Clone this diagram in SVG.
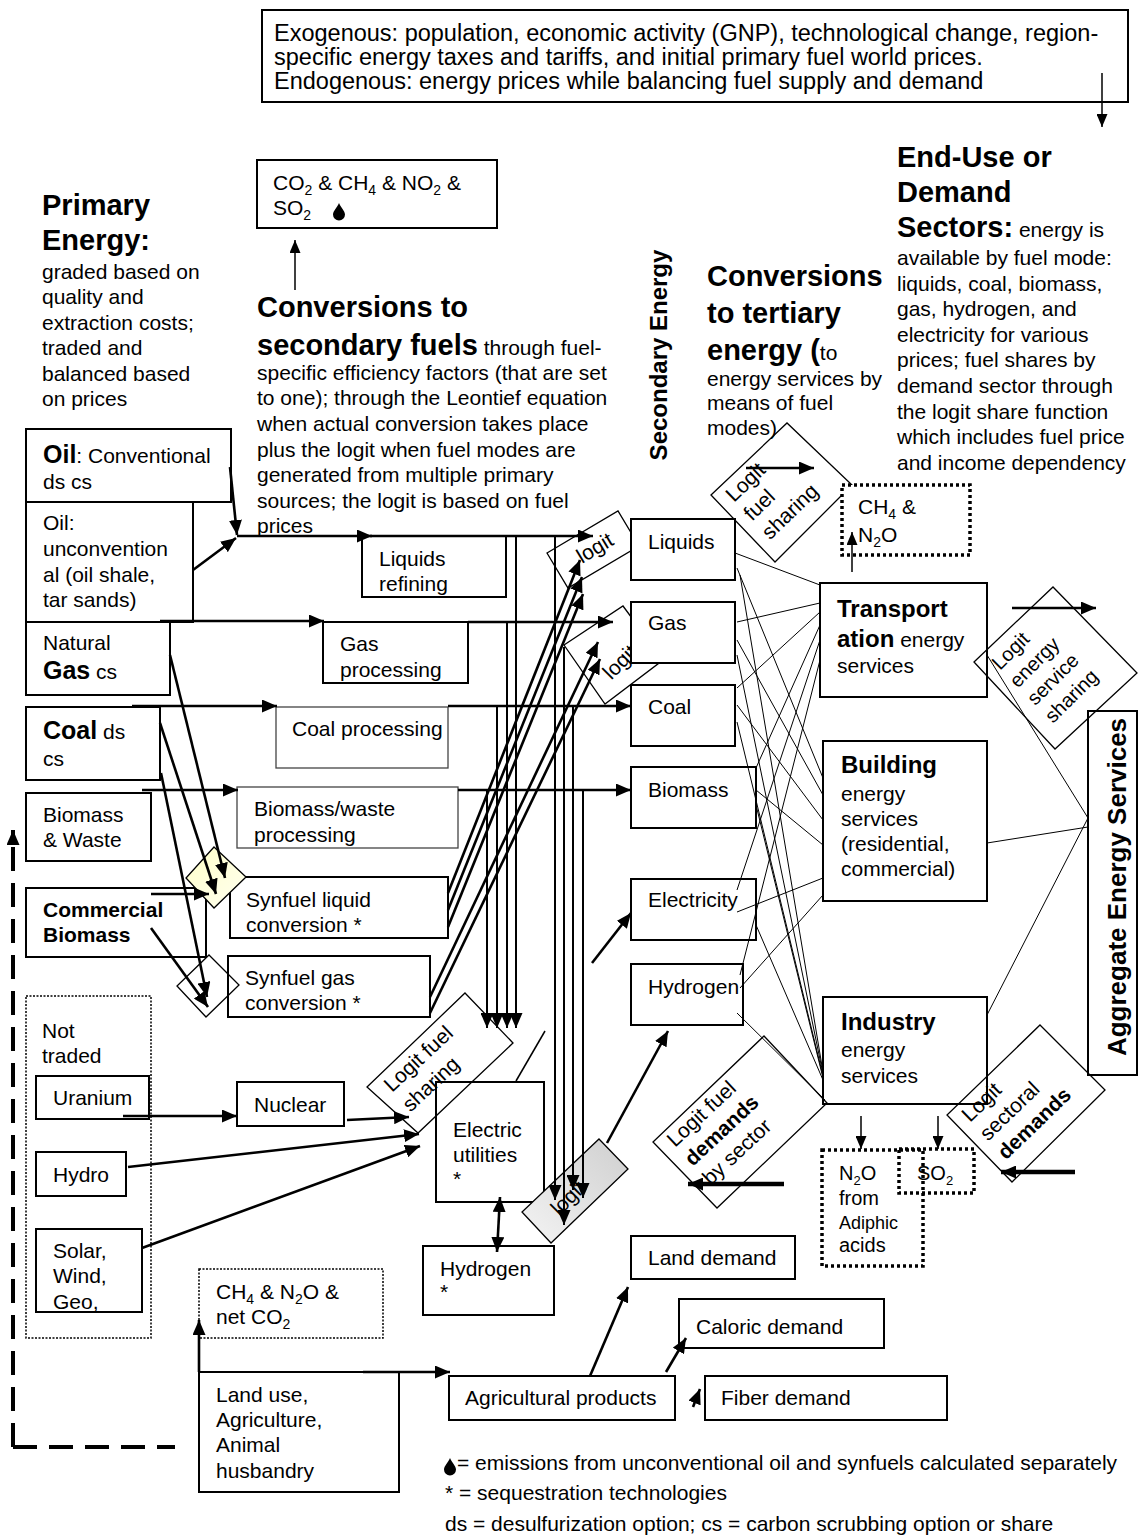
<svg xmlns="http://www.w3.org/2000/svg" width="1140" height="1536" viewBox="0 0 1140 1536">
<style>
.t{font-family:"Liberation Sans",Arial,sans-serif;font-size:21px;fill:#000}
.b{font-weight:bold}
.h{font-family:"Liberation Sans",Arial,sans-serif;font-size:29px;font-weight:bold;fill:#000}
.bx{fill:#fff;stroke:#000;stroke-width:2}
.gb{fill:#fff;stroke:#444;stroke-width:1.3}
.dd{fill:#fff;stroke:#000;stroke-width:3.5;stroke-dasharray:3 3}
.dt{fill:none;stroke:#000;stroke-width:1.5;stroke-dasharray:2 1.5}
.dm{fill:none;stroke:#000;stroke-width:1.3}
.a{fill:none;stroke:#000;stroke-width:2.6;marker-end:url(#ah)}
.v{fill:none;stroke:#000;stroke-width:2;marker-end:url(#ah)}
.s{fill:none;stroke:#000;stroke-width:1.5;marker-end:url(#as)}
.k{fill:none;stroke:#000;stroke-width:4.5;marker-end:url(#ah)}
.w{fill:none;stroke:#000;stroke-width:1}
</style>
<defs>
<marker id="ah" markerUnits="userSpaceOnUse" markerWidth="15" markerHeight="13" refX="15" refY="6.5" orient="auto"><path d="M0,0 L15,6.5 L0,13 Z" fill="#000"/></marker>
<marker id="ah2" markerUnits="userSpaceOnUse" markerWidth="15" markerHeight="13" refX="15" refY="6.5" orient="auto-start-reverse"><path d="M0,0 L15,6.5 L0,13 Z" fill="#000"/></marker>
<marker id="as" markerUnits="userSpaceOnUse" markerWidth="13" markerHeight="11" refX="13" refY="5.5" orient="auto"><path d="M0,0 L13,5.5 L0,11 Z" fill="#000"/></marker>
<linearGradient id="yel" x1="0" y1="0" x2="1" y2="1"><stop offset="0" stop-color="#ffffc8"/><stop offset="1" stop-color="#fffff0"/></linearGradient>
<linearGradient id="gry" x1="0" y1="1" x2="1" y2="0"><stop offset="0" stop-color="#f4f4f4"/><stop offset="1" stop-color="#cfcfcf"/></linearGradient>
<path id="drop" d="M0,-8 C1.5,-4 6,0 6,3.5 A6,6 0 0 1 -6,3.5 C-6,0 -1.5,-4 0,-8 Z" fill="#000"/>
</defs>
<rect width="1140" height="1536" fill="#fff"/>

<g id="exogenous">
<rect class="bx" x="262" y="10" width="866" height="92"/>
<text class="t" style="font-size:23.5px"><tspan x="274" y="41">Exogenous: population, economic activity (GNP), technological change, region-</tspan><tspan x="274" y="65">specific energy taxes and tariffs, and initial primary fuel world prices.</tspan><tspan x="274" y="89">Endogenous: energy prices while balancing fuel supply and demand</tspan></text>
</g>

<g id="emissions-top">
<rect class="bx" x="257" y="160" width="240" height="68"/>
<text class="t"><tspan x="273" y="190">CO</tspan><tspan dy="5" font-size="14">2</tspan><tspan dy="-5"> &amp; CH</tspan><tspan dy="5" font-size="14">4</tspan><tspan dy="-5"> &amp; NO</tspan><tspan dy="5" font-size="14">2</tspan><tspan dy="-5"> &amp;</tspan></text>
<text class="t"><tspan x="273" y="215">SO</tspan><tspan dy="5" font-size="14">2</tspan></text>
<use href="#drop" x="339" y="211"/>
</g>

<g id="primary-heading">
<text class="h"><tspan x="42" y="215">Primary</tspan><tspan x="42" y="250">Energy:</tspan></text>
<text class="t"><tspan x="42" y="279">graded based on</tspan><tspan x="42" y="304">quality and</tspan><tspan x="42" y="330">extraction costs;</tspan><tspan x="42" y="355">traded and</tspan><tspan x="42" y="381">balanced based</tspan><tspan x="42" y="406">on prices</tspan></text>
</g>

<g id="secondary-heading">
<text class="h"><tspan x="257" y="317">Conversions to</tspan><tspan x="257" y="355">secondary fuels</tspan><tspan class="t" style="font-weight:normal"> through fuel-</tspan></text>
<text class="t"><tspan x="257" y="380">specific efficiency factors (that are set</tspan><tspan x="257" y="405">to one); through the Leontief equation</tspan><tspan x="257" y="431">when actual conversion takes place</tspan><tspan x="257" y="457">plus the logit when fuel modes are</tspan><tspan x="257" y="482">generated from multiple primary</tspan><tspan x="257" y="508">sources; the logit is based on fuel</tspan><tspan x="257" y="533">prices</tspan></text>
</g>

<g id="tertiary-heading">
<text class="h"><tspan x="707" y="286">Conversions</tspan><tspan x="707" y="323">to tertiary</tspan><tspan x="707" y="360">energy (</tspan><tspan class="t" style="font-weight:normal">to</tspan></text>
<text class="t"><tspan x="707" y="386">energy services by</tspan><tspan x="707" y="410">means of fuel</tspan><tspan x="707" y="435">modes)</tspan></text>
</g>

<g id="enduse-heading">
<text class="h"><tspan x="897" y="167">End-Use or</tspan><tspan x="897" y="202">Demand</tspan><tspan x="897" y="237">Sectors:</tspan><tspan class="t" style="font-weight:normal"> energy is</tspan></text>
<text class="t"><tspan x="897" y="265">available by fuel mode:</tspan><tspan x="897" y="291">liquids, coal, biomass,</tspan><tspan x="897" y="316">gas, hydrogen, and</tspan><tspan x="897" y="342">electricity for various</tspan><tspan x="897" y="367">prices; fuel shares by</tspan><tspan x="897" y="393">demand sector through</tspan><tspan x="897" y="419">the logit share function</tspan><tspan x="897" y="444">which includes fuel price</tspan><tspan x="897" y="470">and income dependency</tspan></text>
</g>

<g id="secondary-energy-label">
<text class="h" style="font-size:24px" text-anchor="middle" transform="translate(667,355) rotate(-90)">Secondary Energy</text>
</g>

<g id="oil-conv"><rect class="bx" x="26" y="429" width="205" height="73"/>
<text class="t"><tspan x="43" y="463" class="b" style="font-size:25px">Oil</tspan><tspan>: Conventional</tspan><tspan x="43" y="489">ds cs</tspan></text></g>
<g id="oil-unconv"><rect class="bx" x="26" y="502" width="167" height="120"/>
<text class="t"><tspan x="43" y="530">Oil:</tspan><tspan x="43" y="556">unconvention</tspan><tspan x="43" y="582">al (oil shale,</tspan><tspan x="43" y="607">tar sands)</tspan></text></g>
<g id="natural-gas"><rect class="bx" x="26" y="622" width="144" height="73"/>
<text class="t"><tspan x="43" y="650">Natural</tspan><tspan x="43" y="679" class="b" style="font-size:25px">Gas</tspan><tspan> cs</tspan></text></g>
<g id="coal"><rect class="bx" x="26" y="707" width="134" height="73"/>
<text class="t"><tspan x="43" y="739" class="b" style="font-size:25px">Coal</tspan><tspan> ds</tspan><tspan x="43" y="766">cs</tspan></text></g>
<g id="biomass-waste"><rect class="bx" x="26" y="793" width="125" height="68"/>
<text class="t"><tspan x="43" y="822">Biomass</tspan><tspan x="43" y="847">&amp; Waste</tspan></text></g>
<g id="commercial-biomass"><rect class="bx" x="26" y="888" width="180" height="69"/>
<text class="t b"><tspan x="43" y="917">Commercial</tspan><tspan x="43" y="942">Biomass</tspan></text></g>

<g id="not-traded"><rect class="dt" x="26" y="996" width="125" height="342"/>
<text class="t"><tspan x="42" y="1038">Not</tspan><tspan x="42" y="1063">traded</tspan></text></g>
<g id="uranium"><rect class="bx" x="36" y="1076" width="113" height="43"/><text class="t" x="53" y="1105">Uranium</text></g>
<g id="hydro"><rect class="bx" x="36" y="1152" width="90" height="44"/><text class="t" x="53" y="1182">Hydro</text></g>
<g id="solar"><rect class="bx" x="36" y="1229" width="106" height="83"/>
<text class="t"><tspan x="53" y="1258">Solar,</tspan><tspan x="53" y="1283">Wind,</tspan><tspan x="53" y="1309">Geo,</tspan></text></g>

<g id="liquids-refining"><rect class="bx" x="362" y="536" width="144" height="61"/>
<text class="t"><tspan x="379" y="566">Liquids</tspan><tspan x="379" y="591">refining</tspan></text></g>
<g id="gas-processing"><rect class="bx" x="323" y="622" width="145" height="61"/>
<text class="t"><tspan x="340" y="651">Gas</tspan><tspan x="340" y="677">processing</tspan></text></g>
<g id="coal-processing"><rect class="gb" x="276" y="707" width="172" height="61"/>
<text class="t" x="292" y="736">Coal processing</text></g>
<g id="biomass-processing"><rect class="gb" x="237" y="787" width="221" height="61"/>
<text class="t"><tspan x="254" y="816">Biomass/waste</tspan><tspan x="254" y="842">processing</tspan></text></g>
<g id="synfuel-liquid"><rect class="bx" x="230" y="877" width="218" height="61"/>
<text class="t"><tspan x="246" y="907">Synfuel liquid</tspan><tspan x="246" y="932">conversion *</tspan></text></g>
<g id="synfuel-gas"><rect class="bx" x="228" y="956" width="202" height="61"/>
<text class="t"><tspan x="245" y="985">Synfuel gas</tspan><tspan x="245" y="1010">conversion *</tspan></text></g>
<g id="synfuel-liquid-switch"><polygon points="214,847 246,877 214,908 186,878" fill="url(#yel)" stroke="#000" stroke-width="1.3"/></g>
<g id="synfuel-gas-switch"><polygon points="209,955 239,985 206,1017 177,986" class="dm"/></g>

<g id="nuclear"><rect class="bx" x="237" y="1082" width="107" height="44"/><text class="t" x="254" y="1112">Nuclear</text></g>
<g id="electric-utilities"><rect x="436" y="1082" width="108" height="120" fill="none" stroke="#000" stroke-width="2"/>
<text class="t"><tspan x="453" y="1137">Electric</tspan><tspan x="453" y="1162">utilities</tspan><tspan x="453" y="1186">*</tspan></text></g>
<g id="logit-elec"><polygon points="465,993 513,1043 418,1133 367,1087" class="dm"/>
<text class="t" transform="translate(392,1093) rotate(-43)"><tspan x="0" y="0">Logit fuel</tspan><tspan x="0" y="27">sharing</tspan></text></g>
<g id="hydrogen-prod"><rect class="bx" x="423" y="1246" width="131" height="69"/>
<text class="t"><tspan x="440" y="1276">Hydrogen</tspan><tspan x="440" y="1299">*</tspan></text></g>

<g id="logit-liquids"><polygon points="547,553 618,511 639,546 568,588" class="dm"/>
<text class="t" text-anchor="middle" transform="translate(595,548) rotate(-31)" y="7">logit</text></g>
<g id="logit-gas"><polygon points="564,645 623,606 663,660 605,704" class="dm"/>
<text class="t" text-anchor="middle" transform="translate(620,662) rotate(-45)" y="7">logit</text></g>
<g id="logit-hydrogen"><polygon points="599,1139 628,1169 551,1243 522,1212" fill="url(#gry)" stroke="#000" stroke-width="1.3"/>
<text class="t" text-anchor="middle" transform="translate(568,1198) rotate(-45)" y="7">logit</text></g>

<g id="liquids"><rect class="bx" x="631" y="519" width="104" height="61"/><text class="t" x="648" y="549">Liquids</text></g>
<g id="gas"><rect class="bx" x="631" y="602" width="104" height="61"/><text class="t" x="648" y="630">Gas</text></g>
<g id="coal-sec"><rect class="bx" x="631" y="685" width="104" height="61"/><text class="t" x="648" y="714">Coal</text></g>
<g id="biomass-sec"><rect class="bx" x="631" y="767" width="125" height="61"/><text class="t" x="648" y="797">Biomass</text></g>
<g id="electricity"><rect class="bx" x="631" y="879" width="125" height="61"/><text class="t" x="648" y="907">Electricity</text></g>
<g id="hydrogen-sec"><rect class="bx" x="631" y="964" width="112" height="61"/><text class="t" x="648" y="994">Hydrogen</text></g>

<g id="logit-fuel-sharing"><polygon points="711,495 787,423 852,485 775,562" class="dm"/>
<text class="t" transform="translate(734,503) rotate(-44)"><tspan x="0" y="0">Logit</tspan><tspan x="0" y="26">fuel</tspan><tspan x="0" y="52">sharing</tspan></text></g>
<g id="ch4-n2o"><rect class="dd" x="842" y="485" width="128" height="70"/>
<text class="t"><tspan x="858" y="514">CH</tspan><tspan dy="5" font-size="14">4</tspan><tspan dy="-5"> &amp;</tspan></text>
<text class="t"><tspan x="858" y="542">N</tspan><tspan dy="5" font-size="14">2</tspan><tspan dy="-5">O</tspan></text></g>

<g id="transportation"><rect class="bx" x="820" y="583" width="167" height="114"/>
<text class="t"><tspan x="837" y="617" class="b" style="font-size:24px">Transport</tspan><tspan x="837" y="647" class="b" style="font-size:24px">ation</tspan><tspan> energy</tspan><tspan x="837" y="673">services</tspan></text></g>
<g id="building"><rect class="bx" x="823" y="741" width="164" height="160"/>
<text class="t"><tspan x="841" y="773" class="b" style="font-size:24px">Building</tspan><tspan x="841" y="801">energy</tspan><tspan x="841" y="826">services</tspan><tspan x="841" y="851">(residential,</tspan><tspan x="841" y="876">commercial)</tspan></text></g>
<g id="industry"><rect x="823" y="997" width="164" height="107" fill="none" stroke="#000" stroke-width="2"/>
<text class="t"><tspan x="841" y="1030" class="b" style="font-size:24px">Industry</tspan><tspan x="841" y="1057">energy</tspan><tspan x="841" y="1083">services</tspan></text></g>

<g id="logit-energy-service"><polygon points="974,662 1053,587 1137,673 1055,749" class="dm"/>
<text class="t" style="font-size:20px" transform="translate(1000,671) rotate(-45)"><tspan x="0" y="0">Logit</tspan><tspan x="0" y="25">energy</tspan><tspan x="0" y="50">service</tspan><tspan x="0" y="75">sharing</tspan></text></g>
<g id="aggregate"><rect x="1088" y="711" width="49" height="364" fill="none" stroke="#000" stroke-width="2"/>
<text class="h" style="font-size:26px" text-anchor="middle" transform="translate(1126,887) rotate(-90)">Aggregate Energy Services</text></g>

<g id="logit-sectoral"><polygon points="1040,1025 1105,1090 1012,1182 947,1115" class="dm"/>
<text class="t" transform="translate(970,1123) rotate(-44)"><tspan x="0" y="0">Logit</tspan><tspan x="0" y="26">sectoral</tspan><tspan x="0" y="52" class="b">demands</tspan></text></g>
<g id="logit-fuel-demands"><polygon points="764,1036 827,1103 717,1208 653,1142" class="dm"/>
<text class="t" transform="translate(675,1148) rotate(-43)"><tspan x="0" y="0">Logit fuel</tspan><tspan x="0" y="26" class="b">demands</tspan><tspan x="0" y="52">by sector</tspan></text></g>

<g id="n2o-adiphic"><rect class="dd" x="822" y="1150" width="101" height="116"/>
<text class="t" style="font-size:20px"><tspan x="839" y="1180">N</tspan><tspan dy="5" font-size="13">2</tspan><tspan dy="-5">O</tspan><tspan x="839" y="1205">from</tspan><tspan x="839" y="1229" style="font-size:18px">Adiphic</tspan><tspan x="839" y="1252">acids</tspan></text></g>
<g id="so2"><rect x="899" y="1149" width="75" height="44" fill="none" stroke="#000" stroke-width="3.5" stroke-dasharray="3 3"/>
<text class="t" style="font-size:20px"><tspan x="917" y="1180">SO</tspan><tspan dy="5" font-size="13">2</tspan></text></g>

<g id="land-demand"><rect class="bx" x="631" y="1236" width="164" height="43"/><text class="t" x="648" y="1265">Land demand</text></g>
<g id="caloric-demand"><rect class="bx" x="679" y="1299" width="205" height="49"/><text class="t" x="696" y="1334">Caloric demand</text></g>
<g id="agricultural-products"><rect class="bx" x="449" y="1376" width="226" height="44"/><text class="t" x="465" y="1405">Agricultural products</text></g>
<g id="fiber-demand"><rect class="bx" x="705" y="1376" width="242" height="44"/><text class="t" x="721" y="1405">Fiber demand</text></g>
<g id="land-use"><rect class="bx" x="199" y="1372" width="200" height="120"/>
<text class="t"><tspan x="216" y="1402">Land use,</tspan><tspan x="216" y="1427">Agriculture,</tspan><tspan x="216" y="1452">Animal</tspan><tspan x="216" y="1478">husbandry</tspan></text></g>
<g id="land-emissions"><rect class="dt" x="199" y="1269" width="184" height="69" style="fill:#fff"/>
<text class="t"><tspan x="216" y="1299">CH</tspan><tspan dy="5" font-size="14">4</tspan><tspan dy="-5"> &amp; N</tspan><tspan dy="5" font-size="14">2</tspan><tspan dy="-5">O &amp;</tspan></text>
<text class="t"><tspan x="216" y="1324">net CO</tspan><tspan dy="5" font-size="14">2</tspan></text></g>

<g id="legend">
<use href="#drop" x="450" y="1466"/>
<text class="t"><tspan x="457" y="1470">= emissions from unconventional oil and synfuels calculated separately</tspan><tspan x="445" y="1500">* = sequestration technologies</tspan><tspan x="445" y="1531">ds = desulfurization option; cs = carbon scrubbing option or share</tspan></text>
</g>

<g id="connectors">
<path class="s" d="M1102,73 V127"/>
<path class="s" d="M295,290 V240"/>
<path class="a" d="M230,467 L237,535"/>
<path class="a" d="M193,570 L236,538"/>
<path class="a" d="M237,536 H372"/>
<path class="a" d="M370,536 H593"/>
<path class="a" d="M160,621 H324"/>
<path class="a" d="M468,622 H613"/>
<path class="a" d="M132,706 H277"/>
<path class="a" d="M448,706 H631"/>
<path class="a" d="M142,790 H238"/>
<path class="a" d="M458,790 H631"/>
<path class="a" d="M170,655 L225,878"/>
<path class="a" d="M160,723 L216,894"/>
<path class="a" d="M161,773 L207,997"/>
<path class="a" d="M151,894 H209"/>
<path class="a" d="M151,928 L208,1007"/>
<path class="a" d="M448,893 L580,560"/>
<path class="a" d="M448,910 L582,577"/>
<path class="a" d="M448,927 L583,594"/>
<path class="a" d="M430,997 L598,642"/>
<path class="a" d="M430,1013 L600,659"/>
<path class="v" d="M516,537 V1028"/>
<path class="v" d="M507,622 V1028"/>
<path class="v" d="M497,706 V1028"/>
<path class="v" d="M487,790 V1028"/>
<path class="v" d="M555,537 V1200"/>
<path class="v" d="M564,647 V1225"/>
<path class="v" d="M573,706 V1190"/>
<path class="v" d="M583,790 V1198"/>
<path class="a" d="M123,1116 H237"/>
<path class="a" d="M347,1120 L409,1117"/>
<path class="a" d="M128,1167 L419,1134"/>
<path class="a" d="M142,1248 L420,1146"/>
<path d="M500,1197 L497,1252" fill="none" stroke="#000" stroke-width="2.6" marker-start="url(#ah2)" marker-end="url(#ah2)"/>
<path class="w" d="M516,1081 L545,1031" style="stroke-width:1.5"/>
<path class="a" d="M607,1143 L668,1031"/>
<path class="a" d="M592,963 L631,913"/>
<path class="a" d="M746,468 H814"/>
<path class="s" d="M852,572 V532"/>
<path class="a" d="M1012,608 H1096"/>
<path class="s" d="M861,1116 V1149"/>
<path class="s" d="M938,1116 V1149"/>
<path class="k" d="M1075,1172 H1001"/>
<path class="k" d="M784,1184 H688"/>
<path class="a" d="M199,1372 V1320"/>
<path class="w" d="M199,1372 H365" style="stroke-width:2"/>
<path class="a" d="M363,1372 H450"/>
<path class="a" d="M590,1376 L628,1287"/>
<path class="a" d="M666,1372 L686,1338"/>
<path class="a" d="M693,1407 L700,1389"/>
<path d="M13,1447 V830" fill="none" stroke="#000" stroke-width="4" stroke-dasharray="24 12" marker-end="url(#ah)"/>
<path d="M13,1447 H175" fill="none" stroke="#000" stroke-width="4" stroke-dasharray="24 12"/>
<g class="w">
<path d="M735,553 L820,585"/><path d="M737,568 L823,778"/><path d="M740,575 L823,1072"/>
<path d="M737,622 L820,603"/><path d="M737,640 L823,795"/><path d="M737,655 L823,1074"/>
<path d="M737,688 L820,612"/><path d="M737,705 L823,820"/><path d="M737,722 L823,1076"/>
<path d="M756,768 L820,625"/><path d="M756,790 L823,845"/><path d="M756,805 L823,1078"/>
<path d="M737,890 L820,640"/><path d="M737,912 L823,878"/><path d="M756,925 L823,1080"/>
<path d="M740,975 L820,660"/><path d="M740,988 L823,895"/><path d="M737,1013 L825,1100"/>
<path d="M987,655 L1088,818"/><path d="M987,843 L1088,827"/><path d="M987,1015 L1088,818"/>
</g>
</g>
</svg>
